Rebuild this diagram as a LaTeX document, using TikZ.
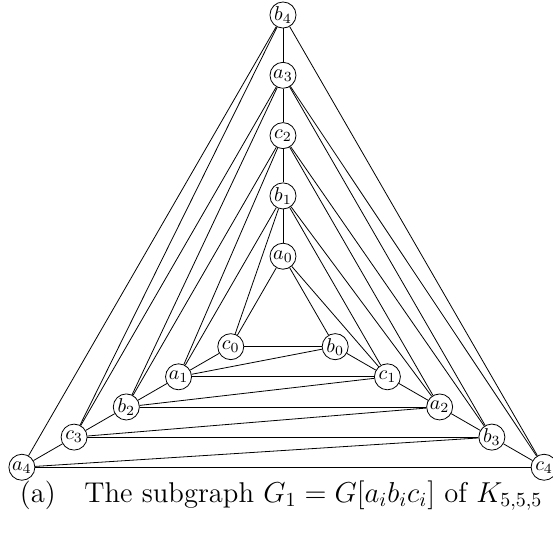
\documentclass[tikz,border=0pt]{standalone}
\usepackage{amsmath}

\begin{document}
\begin{tikzpicture}[
        x=30.15pt, y=30.15pt,
        vtx/.style={draw, circle, fill=white, inner sep=0.3pt, minimum size=13pt, font=\normalsize},
        link/.style={thin, black}
    ]
        \useasboundingbox (-4.693,-3.590) rectangle (4.478,5.249);

        % top spine
        \node[vtx] (a0) at (90:1) {$a_0$};
        \node[vtx] (b1) at (90:2) {$b_1$};
        \node[vtx] (c2) at (90:3) {$c_2$};
        \node[vtx] (a3) at (90:4) {$a_3$};
        \node[vtx] (b4) at (90:5) {$b_4$};
        % left spine
        \node[vtx] (c0) at (210:1) {$c_0$};
        \node[vtx] (a1) at (210:2) {$a_1$};
        \node[vtx] (b2) at (210:3) {$b_2$};
        \node[vtx] (c3) at (210:4) {$c_3$};
        \node[vtx] (a4) at (210:5) {$a_4$};
        % right spine
        \node[vtx] (b0) at (330:1) {$b_0$};
        \node[vtx] (c1) at (330:2) {$c_1$};
        \node[vtx] (a2) at (330:3) {$a_2$};
        \node[vtx] (b3) at (330:4) {$b_3$};
        \node[vtx] (c4) at (330:5) {$c_4$};

        \draw[link] (a0) -- (b1) -- (c2) -- (a3) -- (b4);
        \draw[link] (c0) -- (a1) -- (b2) -- (c3) -- (a4);
        \draw[link] (b0) -- (c1) -- (a2) -- (b3) -- (c4);

        % top to left
        \draw[link] (a0) -- (c0);
        \draw[link] (b1) -- (c0);  \draw[link] (b1) -- (a1);
        \draw[link] (c2) -- (a1);  \draw[link] (c2) -- (b2);
        \draw[link] (a3) -- (b2);  \draw[link] (a3) -- (c3);
        \draw[link] (b4) -- (c3);  \draw[link] (b4) -- (a4);
        % top to right
        \draw[link] (a0) -- (b0);  \draw[link] (a0) -- (c1);
        \draw[link] (b1) -- (c1);  \draw[link] (b1) -- (a2);
        \draw[link] (c2) -- (a2);  \draw[link] (c2) -- (b3);
        \draw[link] (a3) -- (b3);  \draw[link] (a3) -- (c4);
        \draw[link] (b4) -- (c4);
        % left to right
        \draw[link] (c0) -- (b0);
        \draw[link] (a1) -- (c1);  \draw[link] (a1) -- (b0);
        \draw[link] (b2) -- (a2);  \draw[link] (b2) -- (c1);
        \draw[link] (c3) -- (b3);  \draw[link] (c3) -- (a2);
        \draw[link] (a4) -- (c4);  \draw[link] (a4) -- (b3);

        \node[anchor=base, font=\fontsize{14.3}{17}\selectfont] (cap) at (-0.03,-3.08) {(a)\quad The subgraph $G_1 = G[a_ib_ic_i]$ of $K_{5,5,5}$};
    \end{tikzpicture}
\end{document}
